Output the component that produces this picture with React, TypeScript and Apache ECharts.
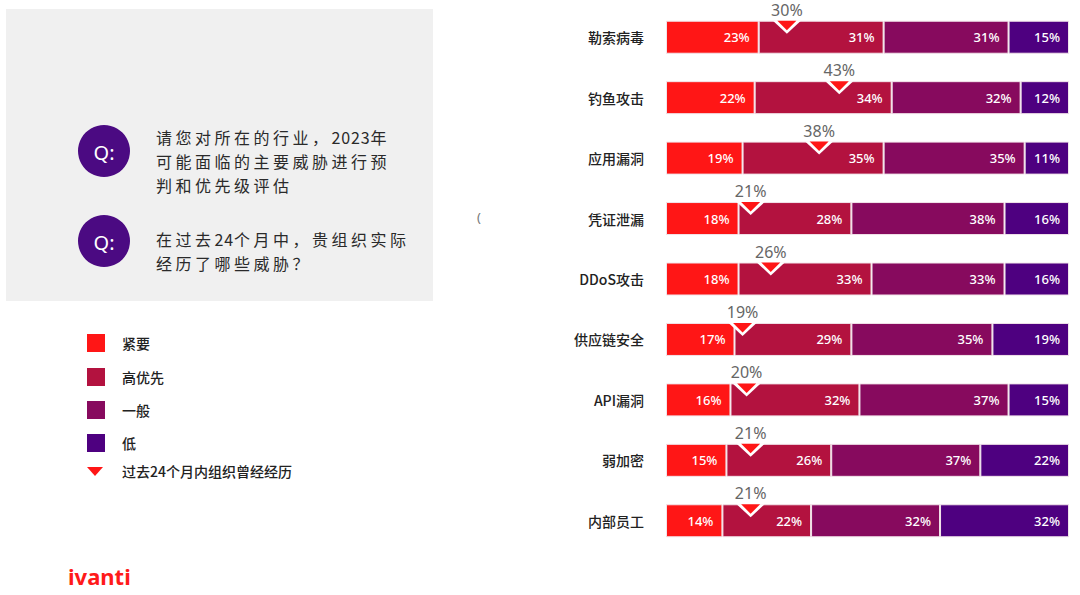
import React, { useEffect, useRef } from "react";
import * as echarts from "echarts";

const categories = ["勒索病毒", "钓鱼攻击", "应用漏洞", "凭证泄漏", "DDoS攻击", "供应链安全", "API漏洞", "弱加密", "内部员工"];
const seriesNames = ["紧要", "高优先", "一般", "低"];
const critical = [23, 22, 19, 18, 18, 17, 16, 15, 14];
const high = [31, 34, 35, 28, 33, 29, 32, 26, 22];
const normal = [31, 32, 35, 38, 33, 35, 37, 37, 32];
const low = [15, 12, 11, 16, 16, 19, 15, 22, 32];
const experienced = [30, 43, 38, 21, 26, 19, 20, 21, 21];
const markerName = "过去24个月内组织曾经经历";
const colors = ["#FF1616", "#B3123F", "#870A5E", "#4E0080"];

const q1Lines = ["请您对所在的行业，2023年", "可能面临的主要威胁进行预", "判和优先级评估"];
const q2Lines = ["在过去24个月中，贵组织实际", "经历了哪些威胁？"];

const DOWN_TRI = "path://M0,0 L20,0 L10,10 Z";
const CJK = '"Noto Sans CJK SC", "Noto Sans", sans-serif';
const NUM = '"Noto Sans", "Noto Sans CJK SC", sans-serif';

// Lay out a question line glyph by glyph, to mimic the wide letter spacing of the original
function spacedLine(line: string, x0: number, y: number): any[] {
  const out: any[] = [];
  let x = x0;
  for (const ch of Array.from(line)) {
    const ascii = ch.charCodeAt(0) < 128;
    out.push({
      type: "text",
      x,
      y,
      style: { text: ch, fill: "#2a2a2a", fontSize: 16, fontFamily: CJK, verticalAlign: "middle" },
    });
    x += ascii ? 9.75 : 19.5;
  }
  return out;
}

export default function App() {
  const ref = useRef<HTMLDivElement>(null);
  useEffect(() => {
    if (!ref.current) return;
    const chart = echarts.init(ref.current, undefined, { renderer: "svg" });
    const values = [critical, high, normal, low];
    const barSeries = values.map((arr, k) => ({
      name: seriesNames[k],
      type: "bar",
      stack: "total",
      barWidth: 33,
      data: arr,
      itemStyle: { color: colors[k], borderColor: "#f2e4ea", borderWidth: 1 },
      label: {
        show: true,
        position: "insideRight",
        distance: 9,
        formatter: "{c}%",
        color: "#fff",
        fontSize: 13,
        fontWeight: 500,
        fontFamily: NUM,
      },
      z: 2,
    }));
    const markerData = experienced.map((v, i) => [v, categories[i]]);

    const legendY = [343, 377, 410, 443];
    const graphic: any[] = [
      { type: "rect", shape: { x: 6, y: 9, width: 427, height: 292 }, style: { fill: "#f0f0f0" } },
      { type: "circle", shape: { cx: 104, cy: 151, r: 26 }, style: { fill: "#4B0A82" } },
      { type: "circle", shape: { cx: 104, cy: 241, r: 26 }, style: { fill: "#4B0A82" } },
      { type: "text", x: 104, y: 152, style: { text: "Q:", fill: "#fff", fontSize: 20, fontFamily: NUM, align: "center", verticalAlign: "middle" } },
      { type: "text", x: 104, y: 242, style: { text: "Q:", fill: "#fff", fontSize: 20, fontFamily: NUM, align: "center", verticalAlign: "middle" } },
      ...q1Lines.flatMap((t, i) => spacedLine(t, 156, 137 + i * 24)),
      ...q2Lines.flatMap((t, i) => spacedLine(t, 156, 239 + i * 23.5)),
      ...seriesNames.map((n, i) => ({ type: "rect", shape: { x: 87, y: legendY[i] - 9, width: 18, height: 18 }, style: { fill: colors[i] } })),
      ...seriesNames.map((n, i) => ({ type: "text", x: 122, y: legendY[i], style: { text: n, fill: "#222", fontSize: 14, fontWeight: 500, fontFamily: CJK, verticalAlign: "middle" } })),
      { type: "polygon", shape: { points: [[87, 467], [103, 467], [95, 476]] }, style: { fill: "#FF1616" } },
      { type: "text", x: 122, y: 471, style: { text: markerName, fill: "#222", fontSize: 14, fontWeight: 500, fontFamily: CJK, verticalAlign: "middle" } },
      { type: "text", x: 68, y: 576, style: { text: "ivanti", fill: "#FF1A1A", fontSize: 22, fontWeight: "bold", fontFamily: NUM, verticalAlign: "middle" } },
      { type: "text", x: 477, y: 217, style: { text: "(", fill: "#777", fontSize: 13, fontFamily: NUM, verticalAlign: "middle" } },
    ];

    chart.setOption({
      animation: false,
      backgroundColor: "#ffffff",
      grid: { left: 666, right: 11, top: 7, height: 544, containLabel: false },
      xAxis: { type: "value", min: 0, max: 100, show: false },
      yAxis: {
        type: "category",
        inverse: true,
        data: categories,
        axisLine: { show: false },
        axisTick: { show: false },
        splitLine: { show: false },
        axisLabel: { margin: 22, color: "#222", fontSize: 14, fontWeight: 500, fontFamily: CJK },
      },
      graphic,
      series: [
        ...barSeries,
        {
          name: markerName + "外框",
          type: "scatter",
          data: markerData,
          symbol: DOWN_TRI,
          symbolSize: [28, 13],
          symbolOffset: [0, -10],
          itemStyle: { color: "#ffffff", opacity: 1 },
          label: {
            show: true,
            position: "top",
            distance: 4,
            lineHeight: 14,
            formatter: (p: any) => p.value[0] + "%",
            color: "#666",
            fontSize: 16,
            fontFamily: NUM,
          },
          z: 5,
        },
        {
          name: markerName,
          type: "scatter",
          data: markerData,
          symbol: DOWN_TRI,
          symbolSize: [19, 9.5],
          symbolOffset: [0, -11.75],
          itemStyle: { color: "#FF1616", opacity: 1 },
          z: 6,
        },
      ],
    });
    return () => chart.dispose();
  }, []);
  return <div ref={ref} style={{ position: "fixed", left: 0, top: 0, width: 1080, height: 595 }} />;
}
